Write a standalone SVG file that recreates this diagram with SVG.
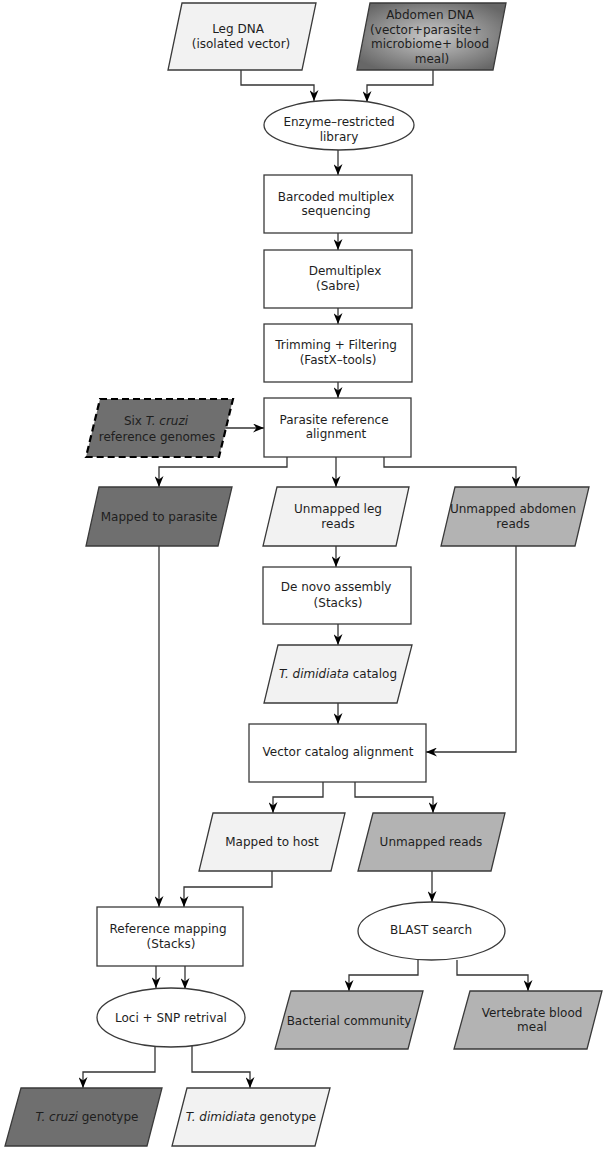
<svg xmlns="http://www.w3.org/2000/svg" width="606" height="1150" viewBox="0 0 606 1150">
<style>
.n{stroke:#3a3a3a;stroke-width:1.3}
.w{fill:#ffffff}
.l{fill:#f2f2f2}
.m{fill:#b3b3b3}
.d{fill:#6f6f6f}
.dash{stroke:#000;stroke-width:2.2;stroke-dasharray:7,4}
text{font-family:"DejaVu Sans","Liberation Sans",sans-serif;font-size:12px;fill:#1e1e1e;text-anchor:middle}
.c path{fill:none;stroke:#333;stroke-width:1.3;marker-end:url(#ah)}
</style>
<defs>
<marker id="ah" markerUnits="userSpaceOnUse" viewBox="0 0 11 9" refX="11" refY="4.5" markerWidth="11" markerHeight="9" orient="auto">
<path d="M0,0 L11,4.5 L0,9 L3.5,4.5 z" fill="#000"/>
</marker>
<radialGradient id="g" cx="0.5" cy="0.5" r="0.6">
<stop offset="0" stop-color="#cacaca"/>
<stop offset="1" stop-color="#676767"/>
</radialGradient>
</defs>
<rect width="606" height="1150" fill="#fff"/>
<g class="c">
<path d="M241,70 V85 H314 V101"/>
<path d="M433,70 V85 H367 V102"/>
<path d="M338,150 V175"/>
<path d="M338,233 V250"/>
<path d="M338,308 V324"/>
<path d="M338,382 V398"/>
<path d="M226,428 H264"/>
<path d="M287,457 V467 H159 V487"/>
<path d="M336,457 V487"/>
<path d="M384,457 V467 H516 V487"/>
<path d="M336,546 V567"/>
<path d="M338,624 V645"/>
<path d="M338,703 V724"/>
<path d="M516,546 V752 H426"/>
<path d="M159,546 V907"/>
<path d="M323,782 V797 H273 V813"/>
<path d="M355,782 V797 H433 V813"/>
<path d="M272,871 V887 H184 V907"/>
<path d="M432,871 V902"/>
<path d="M156,966 V988"/>
<path d="M185,966 V989"/>
<path d="M418,960 V975 H349 V991"/>
<path d="M457,960 V975 H528 V991"/>
<path d="M155,1046 V1072 H83 V1088"/>
<path d="M192,1046 V1072 H250 V1088"/>
</g>
<g id="leg-dna"><polygon class="n l" points="182,3 316,3 302,70 168,70"/><text x="238" y="33">Leg DNA</text><text x="241" y="48">(isolated vector)</text></g>
<g id="abdomen-dna"><polygon class="n" fill="url(#g)" points="370,3 506,3 493,70 357,70"/><text x="430" y="19">Abdomen DNA</text><text x="426" y="34">(vector+parasite+</text><text x="430" y="48">microbiome+ blood</text><text x="432" y="63">meal)</text></g>
<g id="enzyme"><ellipse class="n w" cx="339" cy="125" rx="75" ry="25"/><text x="339" y="126">Enzyme–restricted</text><text x="339" y="141">library</text></g>
<g id="barcoded"><rect class="n w" x="264" y="175" width="148" height="58"/><text x="336" y="201">Barcoded multiplex</text><text x="336" y="215">sequencing</text></g>
<g id="demultiplex"><rect class="n w" x="264" y="250" width="148" height="58"/><text x="345" y="275">Demultiplex</text><text x="338" y="290">(Sabre)</text></g>
<g id="trimming"><rect class="n w" x="264" y="324" width="148" height="58"/><text x="336" y="349">Trimming + Filtering</text><text x="338" y="364">(FastX–tools)</text></g>
<g id="parasite-align"><rect class="n w" x="264" y="398" width="147" height="59"/><text x="334" y="424">Parasite reference</text><text x="336" y="438">alignment</text></g>
<g id="six-genomes"><polygon class="d dash" points="100,399 233,399 219,457 86,457"/><text x="156" y="425">Six <tspan font-style="italic">T. cruzi</tspan></text><text x="157" y="441">reference genomes</text></g>
<g id="mapped-parasite"><polygon class="n d" points="99,487 232,487 218,546 86,546"/><text x="159" y="521">Mapped to parasite</text></g>
<g id="unmapped-leg"><polygon class="n l" points="277,487 409,487 396,546 263,546"/><text x="338" y="513">Unmapped leg</text><text x="338" y="528">reads</text></g>
<g id="unmapped-abdomen"><polygon class="n m" points="455,487 589,487 575,546 441,546"/><text x="513" y="513">Unmapped abdomen</text><text x="513" y="528">reads</text></g>
<g id="de-novo"><rect class="n w" x="263" y="567" width="148" height="57"/><text x="336" y="591">De novo assembly</text><text x="338" y="607">(Stacks)</text></g>
<g id="catalog"><polygon class="n l" points="278,645 412,645 397,703 264,703"/><text x="338" y="678"><tspan font-style="italic">T. dimidiata</tspan> catalog</text></g>
<g id="vector-align"><rect class="n w" x="249" y="724" width="177" height="58"/><text x="338" y="756">Vector catalog alignment</text></g>
<g id="mapped-host"><polygon class="n l" points="213,813 345,813 331,871 199,871"/><text x="272" y="846">Mapped to host</text></g>
<g id="unmapped-reads"><polygon class="n m" points="373,813 505,813 491,871 358,871"/><text x="431" y="846">Unmapped reads</text></g>
<g id="ref-mapping"><rect class="n w" x="97" y="907" width="146" height="59"/><text x="168" y="933">Reference mapping</text><text x="171" y="948">(Stacks)</text></g>
<g id="blast"><ellipse class="n w" cx="431.5" cy="931" rx="73.5" ry="29"/><text x="431" y="934">BLAST search</text></g>
<g id="loci"><ellipse class="n w" cx="171" cy="1017.5" rx="74" ry="29.5"/><text x="171" y="1022">Loci + SNP retrival</text></g>
<g id="bacterial"><polygon class="n m" points="291,991 423,991 408,1049 275,1049"/><text x="349" y="1025">Bacterial community</text></g>
<g id="vertebrate"><polygon class="n m" points="470,991 602,991 587,1049 454,1049"/><text x="532" y="1017">Vertebrate blood</text><text x="532" y="1031">meal</text></g>
<g id="cruzi-genotype"><polygon class="n d" points="21,1088 162,1088 147,1146 5,1146"/><text x="87" y="1121"><tspan font-style="italic">T. cruzi</tspan> genotype</text></g>
<g id="dimidiata-genotype"><polygon class="n l" points="187,1088 330,1088 315,1146 172,1146"/><text x="251" y="1121"><tspan font-style="italic">T. dimidiata</tspan> genotype</text></g>
</svg>
